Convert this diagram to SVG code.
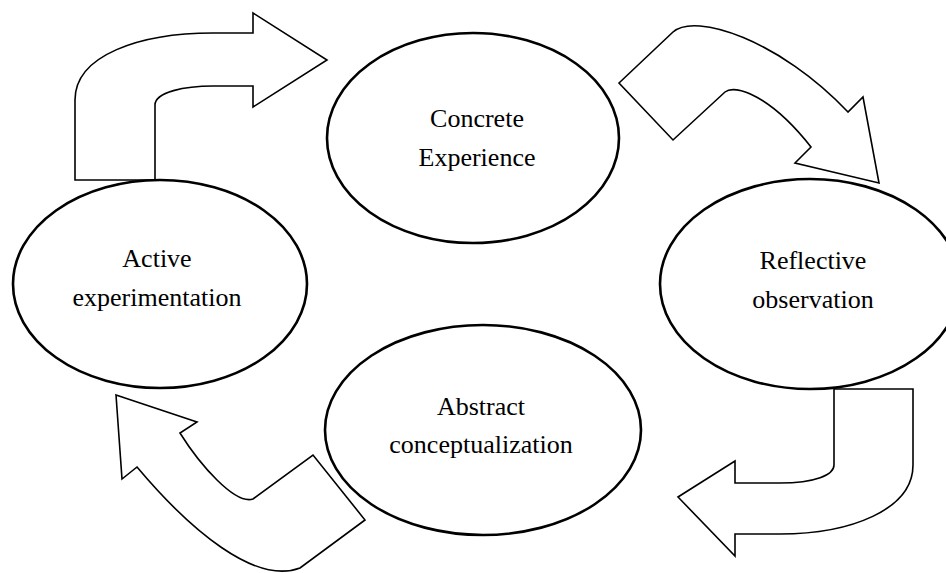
<svg xmlns="http://www.w3.org/2000/svg" width="946" height="573" viewBox="0 0 946 573">
<style>
.node ellipse{fill:#fff;stroke:#000;stroke-width:2.6}
.node text{font-family:"Liberation Serif","Times New Roman",serif;font-size:26px;fill:#000;text-anchor:middle}
.arrow{fill:#fff;stroke:#000;stroke-width:1.6;stroke-linejoin:miter}
</style>
<rect width="946" height="573" fill="#fff"/>
<g id="connectors">
<path class="arrow" d="M75,180 L75,100 C75,55 140,33 213,33 L253,33 L253,13 L327,60 L253,107 L253,86 L213,86 C185,86 155,92 155,105 L155,180 Z"/>
<path class="arrow" d="M619,83 L673,32 C695,12 780,40 848,112 L863,97 L879,183 L795,163 L811,147 C770,95 735,84 725,92 L673,140 Z"/>
<path class="arrow" d="M834,389 L913,389 L913,465 C913,510 850,534 780,534 L735,534 L735,556 L678,497 L735,461 L735,483 L780,483 C815,483 834,475 834,465 Z"/>
<path class="arrow" d="M116,395 L197,422 L180,433 C200,465 235,505 253,499 L313,455 L365,520 L300,568 C255,585 190,530 137,467 L122,479 Z"/>
</g>
<g id="concrete" class="node">
<ellipse cx="473" cy="138" rx="146" ry="105"/>
<text x="477" y="127">Concrete</text>
<text x="477" y="166">Experience</text>
</g>
<g id="reflective" class="node">
<ellipse cx="810" cy="284" rx="150" ry="105"/>
<text x="813" y="269">Reflective</text>
<text x="813" y="308">observation</text>
</g>
<g id="abstract" class="node">
<ellipse cx="483" cy="430" rx="158" ry="105"/>
<text x="481" y="415">Abstract</text>
<text x="481" y="453">conceptualization</text>
</g>
<g id="active" class="node">
<ellipse cx="160" cy="284" rx="147" ry="104"/>
<text x="157" y="267">Active</text>
<text x="157" y="306">experimentation</text>
</g>
</svg>
